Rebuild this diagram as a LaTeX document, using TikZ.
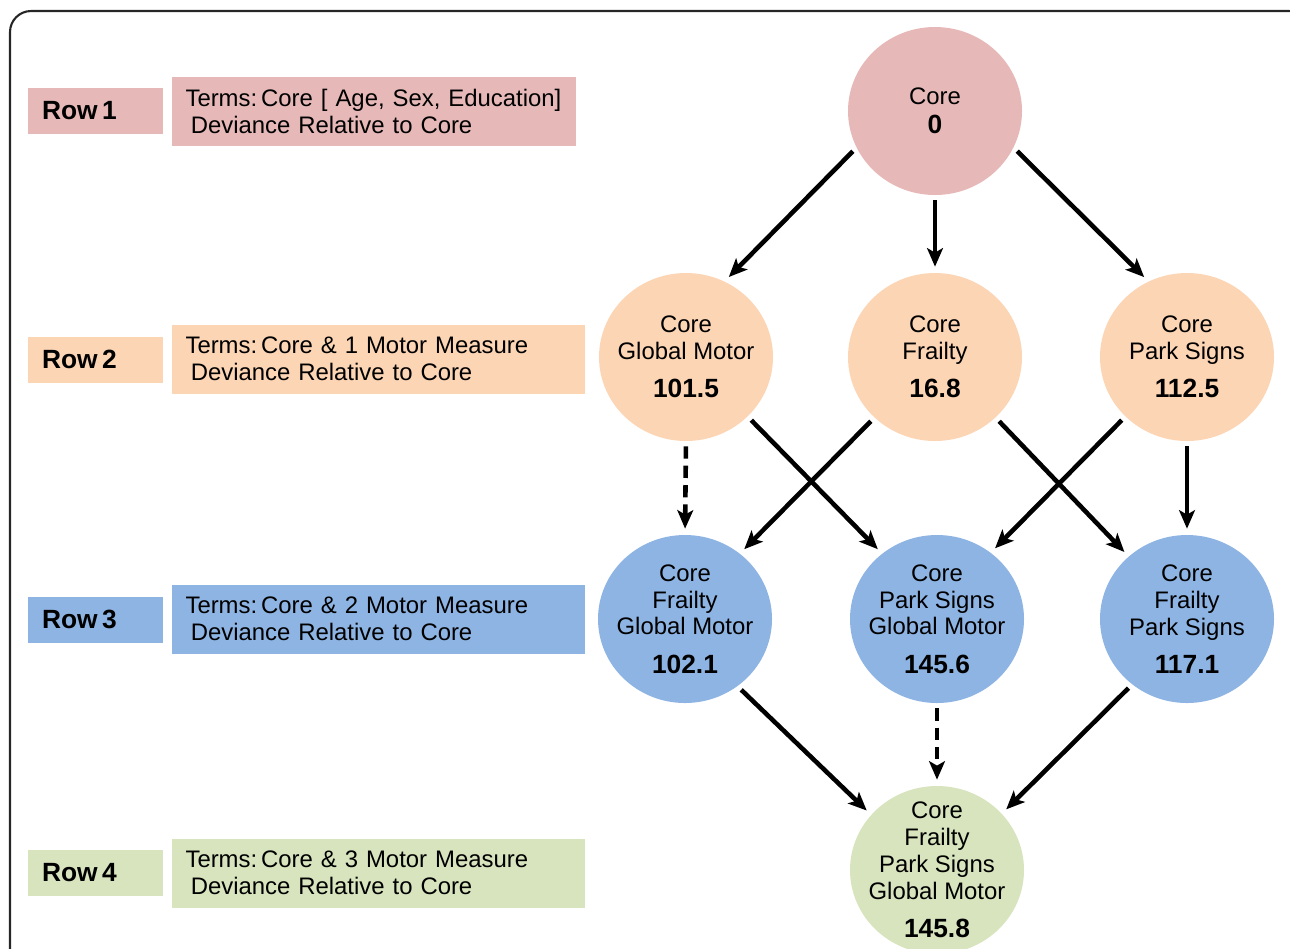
\documentclass[tikz,border=0pt]{standalone}
\usepackage{fontspec}
\setmainfont{Liberation Sans}
\usetikzlibrary{shapes.geometric,arrows.meta}

\definecolor{rowpink}{RGB}{230,185,184}
\definecolor{rowpeach}{RGB}{252,213,181}
\definecolor{rowblue}{RGB}{142,180,227}
\definecolor{rowgreen}{RGB}{215,228,189}

\newcommand{\devnum}[1]{\\[6.5pt]{\fontsize{15}{18}\selectfont\bfseries #1}}

\tikzset{
  model/.style={ellipse,minimum width=174*0.02cm,minimum height=168*0.02cm,inner sep=0pt},
  rowtag/.style={minimum height=46*0.02cm,inner ysep=0pt,inner xsep=14*0.02cm,
    text width=107*0.02cm,align=left,font=\fontsize{15}{18}\selectfont\bfseries},
  rowtext/.style={anchor=west,minimum height=69*0.02cm,inner sep=0pt,align=left,text width=#1*0.02cm},
  link/.style={-{Stealth[length=10.5pt,width=9pt,inset=2.5pt]},line width=2.6pt,
    shorten <=5*0.02cm,shorten >=6*0.02cm},
  dashlink/.style={link,dash pattern=on 7pt off 4pt},
}

\begin{document}
\begin{tikzpicture}[x=0.02cm,y=-0.02cm,font=\fontsize{13.6}{15.3}\selectfont]
      \useasboundingbox (0,0) rectangle (1290,948);
      \draw [line width=1.2pt,black!85,rounded corners=12] (10,11) rectangle (1310,990);

      % row legend
      \node [rowtag,fill=rowpink] (r1) at (95.5,111) {Row\,1};
      \node [rowtag,fill=rowpeach] (r2) at (95.5,359.5) {Row\,2};
      \node [rowtag,fill=rowblue] (r3) at (95.5,619.5) {Row\,3};
      \node [rowtag,fill=rowgreen] (r4) at (95.5,873) {Row\,4};

      \node [rowtext=404,fill=rowpink] (t1) at (172,111.5)
        {\hspace*{7.5pt}Terms:\,Core [ Age, Sex, Education]\\\hspace*{10.5pt}Deviance Relative to Core};
      \node [rowtext=413,fill=rowpeach] (t2) at (172,359)
        {\hspace*{7.5pt}Terms:\,Core \& 1 Motor Measure\\\hspace*{10.5pt}Deviance Relative to Core};
      \node [rowtext=413,fill=rowblue] (t3) at (172,619)
        {\hspace*{7.5pt}Terms:\,Core \& 2 Motor Measure\\\hspace*{10.5pt}Deviance Relative to Core};
      \node [rowtext=413,fill=rowgreen] (t4) at (172,873)
        {\hspace*{7.5pt}Terms:\,Core \& 3 Motor Measure\\\hspace*{10.5pt}Deviance Relative to Core};

      % models
      \node [model,fill=rowpink] (core) at (935,111)
        [label={[align=center]center:Core\\[1pt]{\fontsize{15}{18}\selectfont\bfseries 0}}] {};

      \node [model,fill=rowpeach] (gm) at (686,357)
        [label={[align=center]center:Core\\Global Motor\devnum{101.5}}] {};
      \node [model,fill=rowpeach] (fr) at (935,357)
        [label={[align=center]center:Core\\Frailty\devnum{16.8}}] {};
      \node [model,fill=rowpeach] (ps) at (1187,357)
        [label={[align=center]center:Core\\Park Signs\devnum{112.5}}] {};

      \node [model,fill=rowblue] (frgm) at (685,619)
        [label={[align=center]center:Core\\Frailty\\Global Motor\devnum{102.1}}] {};
      \node [model,fill=rowblue] (psgm) at (937,619)
        [label={[align=center]center:Core\\Park Signs\\Global Motor\devnum{145.6}}] {};
      \node [model,fill=rowblue] (frps) at (1187,619)
        [label={[align=center]center:Core\\Frailty\\Park Signs\devnum{117.1}}] {};

      \node [model,fill=rowgreen] (all) at (937,870)
        [label={[align=center]center:Core\\Frailty\\Park Signs\\Global Motor\devnum{145.8}}] {};

      % row 1 to row 2
      \draw [link] (core.205) to (gm.63);
      \draw [link] (core.270) to (fr.90);
      \draw [link] (core.335) to (ps.117);

      % row 2 to row 3
      \draw [dashlink] (gm.270) to (frgm.90);
      \draw [link] (gm.316) to (psgm.130);
      \draw [link] (fr.225) to (frgm.50);
      \draw [link] (fr.315) to (frps.133);
      \draw [link] (ps.224) to (psgm.51);
      \draw [link] (ps.270) to (frps.90);

      % row 3 to row 4
      \draw [link] (frgm.308) to (all.140);
      \draw [dashlink] (psgm.270) to (all.90);
      \draw [link] (frps.230) to (all.41);

    \end{tikzpicture}
\end{document}
